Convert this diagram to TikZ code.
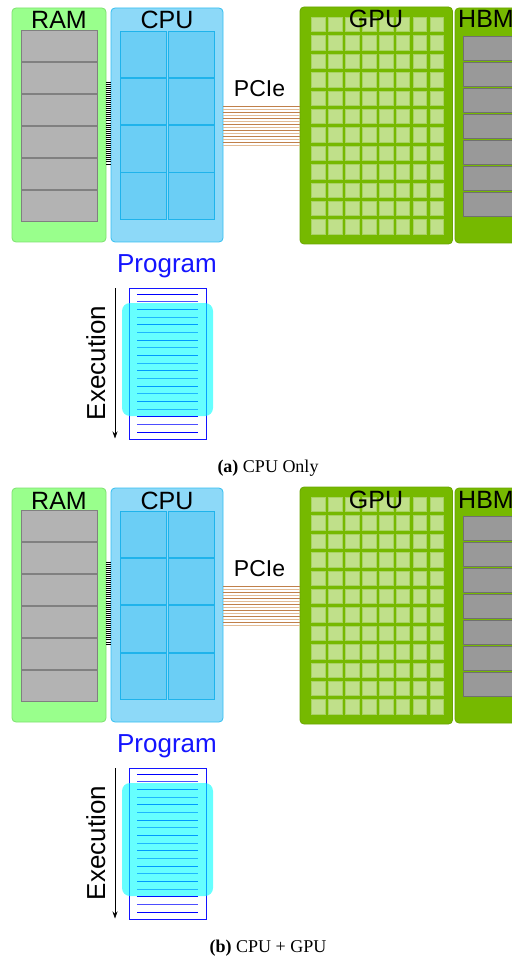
\documentclass[tikz,border=0pt]{standalone}
\usepackage{fontspec}
\setmainfont{Liberation Serif}
\newfontfamily\lblfont{Liberation Sans}
\usetikzlibrary{arrows.meta}
\definecolor{ramfill}{HTML}{99FF8C}
\definecolor{ramline}{HTML}{7DE06F}
\definecolor{chipgray}{HTML}{B3B3B3}
\definecolor{chipline}{HTML}{808080}
\definecolor{cpufill}{HTML}{8DD9F8}
\definecolor{cpuline}{HTML}{33BFF0}
\definecolor{cpucell}{HTML}{6BCEF5}
\definecolor{cpucellline}{HTML}{1FB3EB}
\definecolor{nvgreen}{HTML}{76B900}
\definecolor{gpucell}{HTML}{C0E08A}
\definecolor{gpucellline}{HTML}{A8D262}
\definecolor{hbmchip}{HTML}{999999}
\definecolor{hbmline}{HTML}{707070}
\definecolor{pcidark}{HTML}{C0804A}
\definecolor{pcilight}{HTML}{E2BC96}
\definecolor{progblue}{HTML}{1414FF}
\definecolor{lineblue}{HTML}{4D4DFF}
\definecolor{puthcyan}{RGB}{0,255,255}
\tikzset{
  box/.style={anchor=north west, inner sep=0pt, outer sep=0pt, rounded corners=4pt, line width=0.8pt},
  lbl/.style={font=\lblfont\fontsize{25}{30}\selectfont, inner sep=0pt},
  ramchipbox/.style={fill=chipgray, draw=chipline, line width=0.8pt},
  cpucellbox/.style={fill=cpucell, draw=cpucellline, line width=0.8pt},
  gpucellbox/.style={fill=gpucell, draw=gpucellline, line width=0.5pt},
  hbmchipbox/.style={fill=hbmchip, draw=hbmline, line width=0.8pt},
}
\newcommand\drawpanel[3]{%
\begin{scope}[shift={(0,#2)}]
  % RAM
  \node[box, fill=ramfill, draw=ramline, minimum width=94pt, minimum height=234pt] (#1ram) at (12,8) {};
  \foreach \k in {0,...,5} {
    \pgfmathsetmacro\yy{30+32*\k}
    \fill[ramchipbox] (21,\yy) rectangle ++(76,31);
  }
  \node[lbl, anchor=base] (#1ramlbl) at (59,29) {RAM};
  % CPU
  \node[box, fill=cpufill, draw=cpuline, minimum width=112pt, minimum height=234pt] (#1cpu) at (111,8) {};
  \foreach \r in {0,...,3} {
    \pgfmathsetmacro\yy{31+47.3*\r}
    \fill[cpucellbox] (120,\yy) rectangle ++(46,46.5);
    \fill[cpucellbox] (168,\yy) rectangle ++(46,46.5);
  }
  \node[lbl, anchor=base] (#1cpulbl) at (167,29) {CPU};
  % GPU
  \node[box, fill=nvgreen, draw=nvgreen!90!black, minimum width=152.5pt, minimum height=237pt] (#1gpu) at (300,7) {};
  \foreach \r in {0,...,11} {
    \foreach \c in {0,...,7} {
      \pgfmathsetmacro\yy{17.2+18.4*\r}
      \pgfmathsetmacro\xx{311.2+16.94*\c}
      \fill[gpucellbox] (\xx,\yy) rectangle ++(13.8,14.4);
    }
  }
  \node[lbl, anchor=base] (#1gpulbl) at (376,28) {GPU};
  % HBM
  \node[box, fill=nvgreen, draw=nvgreen!90!black, minimum width=70pt, minimum height=235pt] (#1hbm) at (455,8) {};
  \foreach \k in {0,...,6} {
    \pgfmathsetmacro\yy{36+26*\k}
    \fill[hbmchipbox] (463.3,\yy) rectangle ++(60,24);
  }
  \node[lbl, anchor=base west] (#1hbmlbl) at (458,28) {HBM};
  % RAM-CPU bus
  \foreach \k in {0,...,40} {
    \pgfmathsetmacro\yy{82+2.05*\k}
    \draw[black, line width=0.9pt] (#1ram.east |- 0,\yy) -- (#1cpu.west |- 0,\yy);
  }
  % PCIe bus
  \foreach \k in {0,...,13} {
    \pgfmathsetmacro\yy{106.5+3*\k}
    \ifodd\k\def\pcicol{pcilight}\else\def\pcicol{pcidark}\fi
    \draw[\pcicol, line width=1.2pt] (#1cpu.east |- 0,\yy) -- (#1gpu.west |- 0,\yy);
  }
  \node[lbl, font=\lblfont\fontsize{23}{28}\selectfont, anchor=base] (#1pcilbl) at (259.5,96.5) {PCIe};
  % Program
  \node[lbl, font=\lblfont\fontsize{26}{30}\selectfont, text=progblue, anchor=base] (#1proglbl) at (167,272.3) {Program};
  \node[anchor=north west, inner sep=0pt, draw=progblue, line width=1pt, fill=white, minimum width=77pt, minimum height=151pt] (#1prog) at (129,288) {};
  \foreach \i in {0,...,18} {
    \pgfmathsetmacro\yy{294+7.67*\i}
    \ifodd\i\def\lc{lineblue}\else\def\lc{blue}\fi
    \draw[\lc, line width=1pt] (137,\yy) -- (198,\yy);
  }
  \fill[puthcyan, opacity=0.6, rounded corners=8pt] (122,303) rectangle (213,416);
  \coordinate (#1exs) at (115,288);
  \coordinate (#1exe) at (115,438.5);
  \draw[black, line width=0.8pt, -{Stealth[length=7pt,width=5pt]}] (#1exs) -- (#1exe);
  \node[lbl, font=\lblfont\fontsize{26}{30}\selectfont, rotate=90, anchor=base] (#1exlbl) at (105,363) {Execution};
  % caption
  \node[anchor=base, inner sep=0pt, font=\fontsize{18}{22}\selectfont] (#1cap) at (268,472) {#3};
\end{scope}}
\begin{document}
\begin{tikzpicture}[x=1pt, y=-1pt]
  \useasboundingbox (0,0) rectangle (511,957);
  \drawpanel{a}{0}{\textbf{(a)} CPU Only}
  \drawpanel{b}{480}{\textbf{(b)} CPU + GPU}
\end{tikzpicture}
\end{document}
